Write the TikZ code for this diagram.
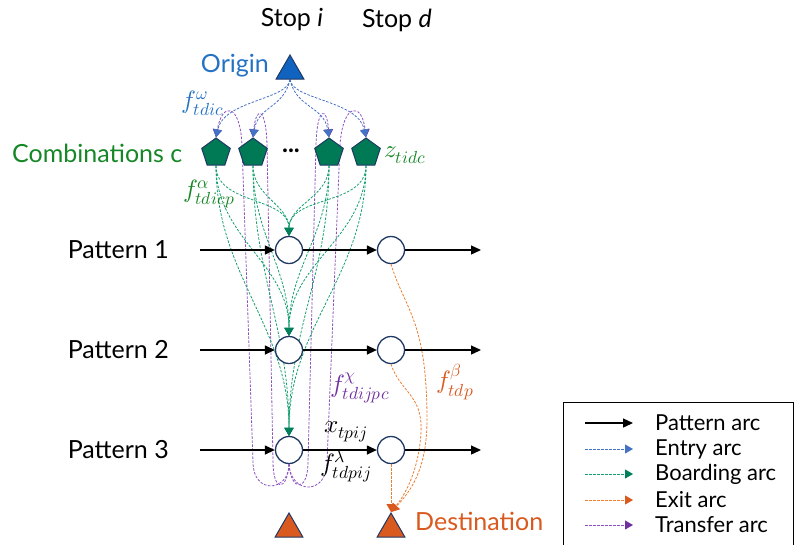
\documentclass[tikz,border=0pt]{standalone}
\usepackage{fontspec}
\usepackage{unicode-math}
\setmainfont{Lato}
\setmathfont{Latin Modern Math}
\usetikzlibrary{shapes.geometric,arrows.meta}
\pgfdeclarelayer{bg}
\pgfsetlayers{bg,main}
\definecolor{navy}{RGB}{31,56,100}
\definecolor{ofill}{RGB}{17,99,192}
\definecolor{txtblue}{RGB}{36,114,196}
\definecolor{entryc}{RGB}{68,114,196}
\definecolor{pentg}{RGB}{0,122,85}
\definecolor{txtgreen}{RGB}{22,135,38}
\definecolor{boardc}{RGB}{20,160,110}
\definecolor{boardt}{RGB}{0,128,90}
\definecolor{orng}{RGB}{217,89,30}
\definecolor{exitc}{RGB}{237,125,49}
\definecolor{purp}{RGB}{112,48,160}
\definecolor{transc}{RGB}{140,80,190}
\begin{document}
\begin{tikzpicture}[x=1pt,y=-1pt,
  txt/.style={font=\fontsize{25}{28}\selectfont, inner sep=0pt},
  mlab/.style={font=\fontsize{25}{28}\selectfont, inner sep=0pt},
  leg/.style={font=\fontsize{22}{24}\selectfont, anchor=west, inner sep=0pt},
  circ/.style={circle, draw=navy, line width=1.3pt, fill=white, minimum size=27pt, inner sep=0pt},
  tri/.style={regular polygon, regular polygon sides=3, minimum size=32pt, inner sep=0pt, draw=navy, line width=1pt},
  pent/.style={regular polygon, regular polygon sides=5, minimum size=30pt, inner sep=0pt, draw=navy, line width=1pt, fill=pentg},
  parc/.style={line width=1.3pt, -{Triangle[length=10pt,width=9pt]}},
  darc/.style={dash pattern=on 2.5pt off 1.5pt, line width=0.8pt},
  entry/.style={darc, draw=entryc, -{Triangle[length=8pt,width=9pt,color=entryc]}},
  board/.style={darc, draw=boardc, -{Triangle[length=8pt,width=9pt,color=boardt]}},
  exitarc/.style={darc, draw=exitc, -{Triangle[length=8pt,width=9pt,color=orng]}},
  trans/.style={darc, draw=transc, -{Triangle[length=8pt,width=9pt,color=purp]}}
]
\useasboundingbox (0,0) rectangle (794,544);

% headers
\node[txt] (hi) at (292,20) {Stop \textit{i}};
\node[txt] (hd) at (397,20) {Stop \textit{d}};

% origin
\node[tri, fill=ofill] (o) at (290,71) {};
\node[txt, text=txtblue, anchor=east] (ol) at (269,66) {Origin};

% combinations
\node[pent] (c1) at (216,153) {};
\node[pent] (c2) at (253,153) {};
\node[pent] (c3) at (329,153) {};
\node[pent] (c4) at (366,153) {};
\node[txt] (dots) at (291,151) {\textbf{...}};
\node[txt, text=txtgreen, anchor=west] (cl) at (12,153) {Combinations c};
\node[mlab, text=txtgreen, anchor=west] (zl) at (384,155) {$z_{tidc}$};

% patterns
\foreach \p/\y in {1/250,2/350,3/450}{
  \node[circ] (i\p) at (289,\y) {};
  \node[circ] (d\p) at (391,\y) {};
  \coordinate (s\p) at (200,\y);
  \coordinate (e\p) at (481,\y);
  \node[txt, anchor=east] (pl\p) at (169,\y) {Pattern \p};
  \draw[parc] (s\p) -- (i\p);
  \draw[parc] (i\p) -- (d\p);
  \draw[parc] (d\p) -- (e\p);
}

% bottom triangles
\node[tri, fill=orng] (ti) at (289,529) {};
\node[tri, fill=orng] (td) at (391,529) {};
\node[txt, text=orng, anchor=west] (dl) at (415,521) {Destination};

% labels
\node[mlab, text=txtblue] (fw) at (203,103) {$f^{\omega}_{tdic}$};
\node[mlab, text=txtgreen] (fa) at (209,194) {$f^{\alpha}_{tdicp}$};
\node[mlab, text=purp] (fc) at (360,388) {$f^{\chi}_{tdijpc}$};
\node[mlab, text=orng] (fb) at (455,382) {$f^{\beta}_{tdp}$};
\node[mlab] (xl) at (346,432) {$x_{tpij}$};
\node[mlab] (fl) at (346,466) {$f^{\lambda}_{tdpij}$};

\begin{pgfonlayer}{bg}
% transfer arcs
\draw[trans] (i3.south) .. controls (289,492) and (253,495) .. (253,462) -- (242,145) .. controls (240,102) and (222,102) .. (c1.north);
\draw[trans] (i3.south) .. controls (287,492) and (273,492) .. (273,462) -- (267,145) .. controls (266,106) and (256,106) .. (c2.north);
\draw[trans] (i3.south) .. controls (291,492) and (308,492) .. (308,462) -- (316,145) .. controls (317,106) and (327,106) .. (c3.north);
\draw[trans] (i3.south) .. controls (291,495) and (327,495) .. (327,462) -- (340,145) .. controls (343,102) and (362,102) .. (c4.north);
% entry arcs
\draw[entry] (o.south) .. controls (288,100) and (224,100) .. (c1.north);
\draw[entry] (o.south) .. controls (284,108) and (258,106) .. (c2.north);
\draw[entry] (o.south) .. controls (296,108) and (324,106) .. (c3.north);
\draw[entry] (o.south) .. controls (292,100) and (358,100) .. (c4.north);
% boarding arcs
\foreach \c in {1,2,3,4}{
  \foreach \p in {1,2,3}{
    \draw[board] (c\c.south) to[out=-90,in=90] (i\p.north);
  }
}
% exit arcs
\draw[exitarc] (d1.south) .. controls (405,310) and (427,320) .. (427,420) .. controls (427,470) and (410,492) .. (td.north);
\draw[exitarc] (d2.south) .. controls (400,392) and (423,395) .. (421,432) .. controls (419,470) and (405,495) .. (td.north);
\draw[exitarc] (d3.south) -- (td.north);
\end{pgfonlayer}

% legend
\draw[line width=1pt] (563,402) rectangle (793,547);
\foreach \k/\y/\s/\t in {1/423/parc/Pattern arc,2/449/entry/Entry arc,3/474/board/Boarding arc,4/500/exitarc/Exit arc,5/525/trans/Transfer arc}{
  \coordinate (la\k) at (585,\y);
  \coordinate (lb\k) at (633,\y);
  \draw[\s] (la\k) -- (lb\k);
  \node[leg] (lt\k) at (655,\y) {\t};
}
\end{tikzpicture}
\end{document}
